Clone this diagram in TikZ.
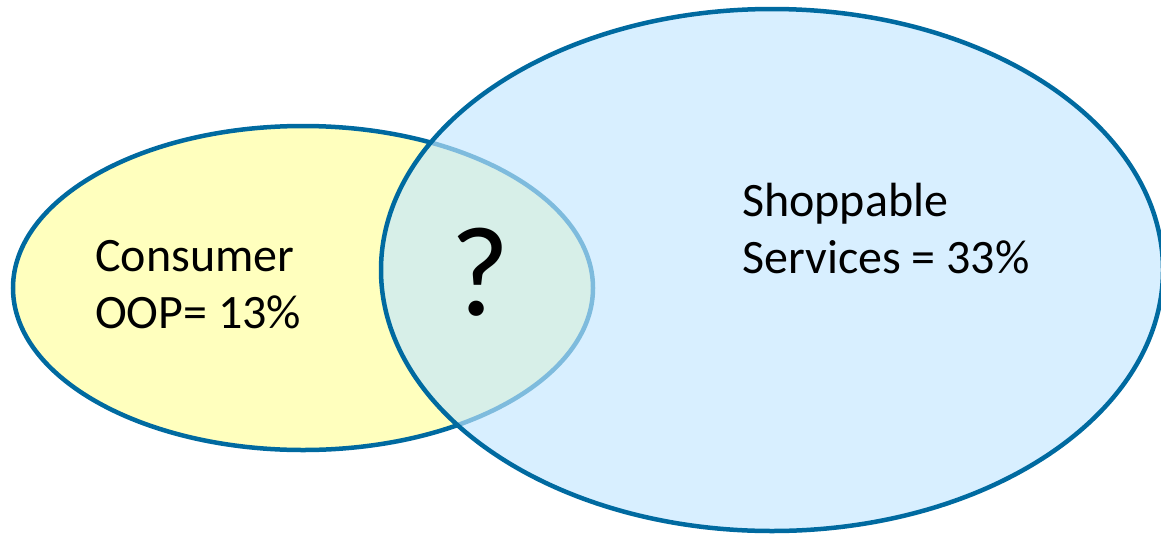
\documentclass[tikz,border=0pt]{standalone}
\usepackage{fontspec}
\setmainfont{Carlito}
\definecolor{rimblue}{RGB}{0,106,160}
\definecolor{oopyellow}{RGB}{255,255,190}
\definecolor{shopblue}{RGB}{195,231,255}

\begin{document}
\begin{tikzpicture}[x=1pt, y=-1pt]
\def\lab{\fontsize{48}{57}\selectfont}
\tikzset{rim/.style={line width=4.5pt, rimblue}, tag/.style={anchor=base west, align=left, inner sep=0pt, font=\lab}}
\useasboundingbox (0,0) rectangle (1161,536);
%sets
\draw[rim, fill=oopyellow] (303,288) ellipse (290 and 162); %consumer
\draw[rim, fill=shopblue, fill opacity=0.65] (772,270) ellipse (391 and 261); %shoppable
%labels (base = last line)
\node[tag] (oop) at (95,328) {Consumer\\OOP= 13\%};
\node[tag] (shop) at (742,273) {Shoppable\\Services = 33\%};
\node[anchor=base, inner sep=0pt, font=\fontsize{128}{150}\selectfont] (both) at (480,315) {?};
\end{tikzpicture}
\end{document}
